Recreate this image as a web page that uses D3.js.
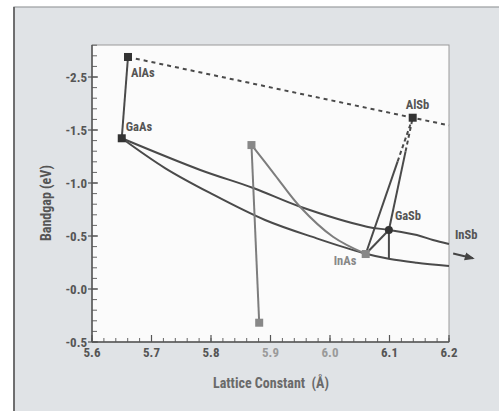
<!DOCTYPE html>
<meta charset="utf-8">
<script src="https://d3js.org/d3.v7.min.js"></script>
<style>
  body { margin: 0; background: #fff; }
  text { font-family: "Liberation Sans Narrow", "Roboto Condensed", "Liberation Sans", Arial, sans-serif; }
</style>
<svg id="chart" width="499" height="411"></svg>
<script>

// tick values and their printed labels (as in the original figure)
var yTicks = [-0.5, 0, 0.5, 1.0, 1.5, 2.0];
var yTickLabels = ["-0.5", "-0.0", "-0.5", "-1.0", "-1.5", "-2.5"];
var xTicks = [5.6, 5.7, 5.8, 5.9, 6.0, 6.1, 6.2];
var xTickLabels = ["5.6", "5.7", "5.8", "5.9", "6.0", "6.1", "6.2"];
var xFaint = ["5.9", "6.0"];

// compounds: name, lattice constant, bandgap
var compounds = ["AlAs", "GaAs", "AlSb", "GaSb", "InAs"];
var latticeConst = [5.6605, 5.650, 6.139, 6.099, 6.060];
var bandgap = [2.189, 1.422, 1.616, 0.557, 0.330];

// the two grey end points
var greyPtsX = [5.868, 5.881];
var greyPtsY = [1.358, -0.318];

// curves
var upperX = [5.650, 5.782, 5.871, 5.950, 6.062, 6.099, 6.146, 6.173, 6.200];
var upperY = [1.422, 1.123, 0.953, 0.776, 0.588, 0.557, 0.509, 0.462, 0.425];
var lowerX = [5.650, 5.7227, 5.7983, 5.8908, 5.9776, 6.0555, 6.1008, 6.1457, 6.200];
var lowerY = [1.422, 1.141, 0.906, 0.651, 0.478, 0.340, 0.283, 0.248, 0.217];
var greyCurveX = [5.8684, 5.9076, 5.9496, 6.005, 6.060];
var greyCurveY = [1.358, 1.075, 0.776, 0.493, 0.330];
var dashEdgeY = 1.544;

var svg = d3.select("#chart");

var margin = {left: 92, right: 449, top: 45, bottom: 342};

var x = d3.scaleLinear().domain([5.6, 6.2]).range([margin.left, margin.right]);
var y = d3.scaleLinear().domain([-0.5, 2.302]).range([margin.bottom, margin.top]);

// outer panel
svg.append("rect").attr("x", 14).attr("y", 7).attr("width", 499).attr("height", 420)
  .attr("fill", "#e0e3e6").attr("stroke", "#9a9da0").attr("stroke-width", 1.2);
svg.append("line").attr("x1", 14).attr("x2", 14).attr("y1", 7).attr("y2", 411)
  .attr("stroke", "#555").attr("stroke-width", 1.5);

// plot area
svg.append("rect").attr("x", margin.left).attr("y", margin.top)
  .attr("width", margin.right - margin.left).attr("height", margin.bottom - margin.top)
  .attr("fill", "#fbfbfb").attr("stroke", "#9a9a9a").attr("stroke-width", 1);

// minor ticks
var dark = "#4a4a4a", grey = "#7d7d7d";
var yMinor = d3.range(-0.5, 2.31, 0.1);
svg.append("g").selectAll("line").data(yMinor).enter().append("line")
  .attr("x1", margin.left).attr("x2", margin.left + 5)
  .attr("y1", function(d) { return y(d); }).attr("y2", function(d) { return y(d); })
  .attr("stroke", "#666").attr("stroke-width", 1);
var xMinor = d3.range(5.6, 6.201, 0.02);
svg.append("g").selectAll("line").data(xMinor).enter().append("line")
  .attr("y1", margin.bottom).attr("y2", margin.bottom - 4)
  .attr("x1", function(d) { return x(d); }).attr("x2", function(d) { return x(d); })
  .attr("stroke", "#666").attr("stroke-width", 1);

// major ticks
svg.append("g").selectAll("line").data(yTicks).enter().append("line")
  .attr("x1", margin.left - 4).attr("x2", margin.left + 6)
  .attr("y1", function(d) { return y(d); }).attr("y2", function(d) { return y(d); })
  .attr("stroke", "#555").attr("stroke-width", 1.2);
svg.append("g").selectAll("line").data(xTicks).enter().append("line")
  .attr("y1", margin.bottom).attr("y2", margin.bottom - 7)
  .attr("x1", function(d) { return x(d); }).attr("x2", function(d) { return x(d); })
  .attr("stroke", "#555").attr("stroke-width", 1.2);

// axis lines
svg.append("line").attr("x1", margin.left).attr("x2", margin.left)
  .attr("y1", margin.top).attr("y2", margin.bottom).attr("stroke", "#555").attr("stroke-width", 1.5);
svg.append("line").attr("x1", margin.left).attr("x2", margin.right)
  .attr("y1", margin.bottom).attr("y2", margin.bottom).attr("stroke", "#555").attr("stroke-width", 1.5);

// tick labels
svg.append("g").selectAll("text").data(yTicks).enter().append("text")
  .attr("x", margin.left - 5).attr("y", function(d) { return y(d) + 5; })
  .attr("text-anchor", "end").attr("font-size", 13).attr("font-weight", "bold")
  .attr("fill", "#555").text(function(d, i) { return yTickLabels[i]; });
svg.append("g").selectAll("text").data(xTicks).enter().append("text")
  .attr("x", function(d) { return x(d); }).attr("y", 357)
  .attr("text-anchor", "middle").attr("font-size", 13).attr("font-weight", "bold")
  .attr("fill", function(d, i) { return xFaint.indexOf(xTickLabels[i]) >= 0 ? "#9a9a9a" : "#555"; })
  .text(function(d, i) { return xTickLabels[i]; });

// axis titles
svg.append("text").attr("transform", "translate(51,203) rotate(-90)")
  .attr("text-anchor", "middle").attr("font-size", 14).attr("font-weight", "bold")
  .attr("fill", "#555").text("Bandgap (eV)");
svg.append("text").attr("x", 271).attr("y", 388)
  .attr("text-anchor", "middle").attr("font-size", 14).attr("font-weight", "bold")
  .attr("fill", "#6a6a6a").attr("xml:space", "preserve").text("Lattice Constant  (Å)");

var line = d3.line().x(function(d) { return x(d[0]); }).y(function(d) { return y(d[1]); });
var curve = d3.line().curve(d3.curveCatmullRom.alpha(0.5)).x(function(d) { return x(d[0]); }).y(function(d) { return y(d[1]); });
function pts(xs, ys) { return xs.map(function(v, i) { return [v, ys[i]]; }); }
function P(name) { var i = compounds.indexOf(name); return [latticeConst[i], bandgap[i]]; }
function lerp(a, b, t) { return [a[0] + (b[0] - a[0]) * t, a[1] + (b[1] - a[1]) * t]; }

// dashed AlAs - AlSb - edge
svg.append("path").datum([P("AlAs"), P("AlSb"), [6.2, dashEdgeY]]).attr("d", line)
  .attr("fill", "none").attr("stroke", dark).attr("stroke-width", 2).attr("stroke-dasharray", "4,4");

// curves
svg.append("path").datum(pts(upperX, upperY)).attr("d", curve)
  .attr("fill", "none").attr("stroke", dark).attr("stroke-width", 2);
svg.append("path").datum(pts(lowerX, lowerY)).attr("d", curve)
  .attr("fill", "none").attr("stroke", dark).attr("stroke-width", 2);
svg.append("path").datum(pts(greyCurveX, greyCurveY)).attr("d", curve)
  .attr("fill", "none").attr("stroke", grey).attr("stroke-width", 2);

// grey vertical line
svg.append("path").datum(pts(greyPtsX, greyPtsY)).attr("d", line)
  .attr("fill", "none").attr("stroke", grey).attr("stroke-width", 2);

// AlAs - GaAs
svg.append("path").datum([P("AlAs"), P("GaAs")]).attr("d", line)
  .attr("fill", "none").attr("stroke", dark).attr("stroke-width", 2);

// InAs - AlSb and GaSb - AlSb (solid then dashed)
[["InAs", 0.68], ["GaSb", 0.70]].forEach(function(s) {
  var a = P(s[0]), b = P("AlSb"), m = lerp(a, b, s[1]);
  svg.append("path").datum([a, m]).attr("d", line)
    .attr("fill", "none").attr("stroke", dark).attr("stroke-width", 2);
  svg.append("path").datum([m, b]).attr("d", line)
    .attr("fill", "none").attr("stroke", dark).attr("stroke-width", 2).attr("stroke-dasharray", "4,3");
});

// InAs - GaSb and drop from GaSb
svg.append("path").datum([P("InAs"), P("GaSb")]).attr("d", line)
  .attr("fill", "none").attr("stroke", dark).attr("stroke-width", 2);
svg.append("path").datum([P("GaSb"), [P("GaSb")[0], 0.283]]).attr("d", line)
  .attr("fill", "none").attr("stroke", dark).attr("stroke-width", 2);

// markers
var markerFill = {AlAs: "#333", GaAs: "#333", AlSb: "#333", GaSb: "#333", InAs: "#888"};
compounds.forEach(function(c, i) {
  if (c === "GaSb") {
    svg.append("circle").attr("cx", x(latticeConst[i])).attr("cy", y(bandgap[i])).attr("r", 4)
      .attr("fill", markerFill[c]);
  } else {
    svg.append("rect").attr("x", x(latticeConst[i]) - 4).attr("y", y(bandgap[i]) - 4)
      .attr("width", 8).attr("height", 8).attr("fill", markerFill[c]);
  }
});
greyPtsX.forEach(function(v, i) {
  svg.append("rect").attr("x", x(v) - 4).attr("y", y(greyPtsY[i]) - 4)
    .attr("width", 8).attr("height", 8).attr("fill", "#888");
});

// labels
var labelDx = {AlAs: [3, 20], GaAs: [4, -7], AlSb: [-7, -9], GaSb: [6, -10], InAs: [-32, 11]};
compounds.forEach(function(c, i) {
  svg.append("text").attr("x", x(latticeConst[i]) + labelDx[c][0]).attr("y", y(bandgap[i]) + labelDx[c][1])
    .attr("font-size", 12.5).attr("font-weight", "bold")
    .attr("fill", c === "InAs" ? "#888" : "#555").text(c);
});

// InSb label with arrow
svg.append("text").attr("x", x(6.21)).attr("y", y(0.47))
  .attr("font-size", 12.5).attr("font-weight", "bold").attr("fill", "#555").text("InSb");
svg.append("defs").append("marker").attr("id", "arr").attr("viewBox", "0 0 10 10")
  .attr("refX", 8).attr("refY", 5).attr("markerWidth", 5).attr("markerHeight", 5)
  .attr("orient", "auto").append("path").attr("d", "M0,1 L10,5 L0,9 z").attr("fill", "#444");
svg.append("path").datum([[6.207, 0.335], [6.24, 0.29]]).attr("d", line)
  .attr("stroke", "#444").attr("stroke-width", 2).attr("marker-end", "url(#arr)");

</script>
